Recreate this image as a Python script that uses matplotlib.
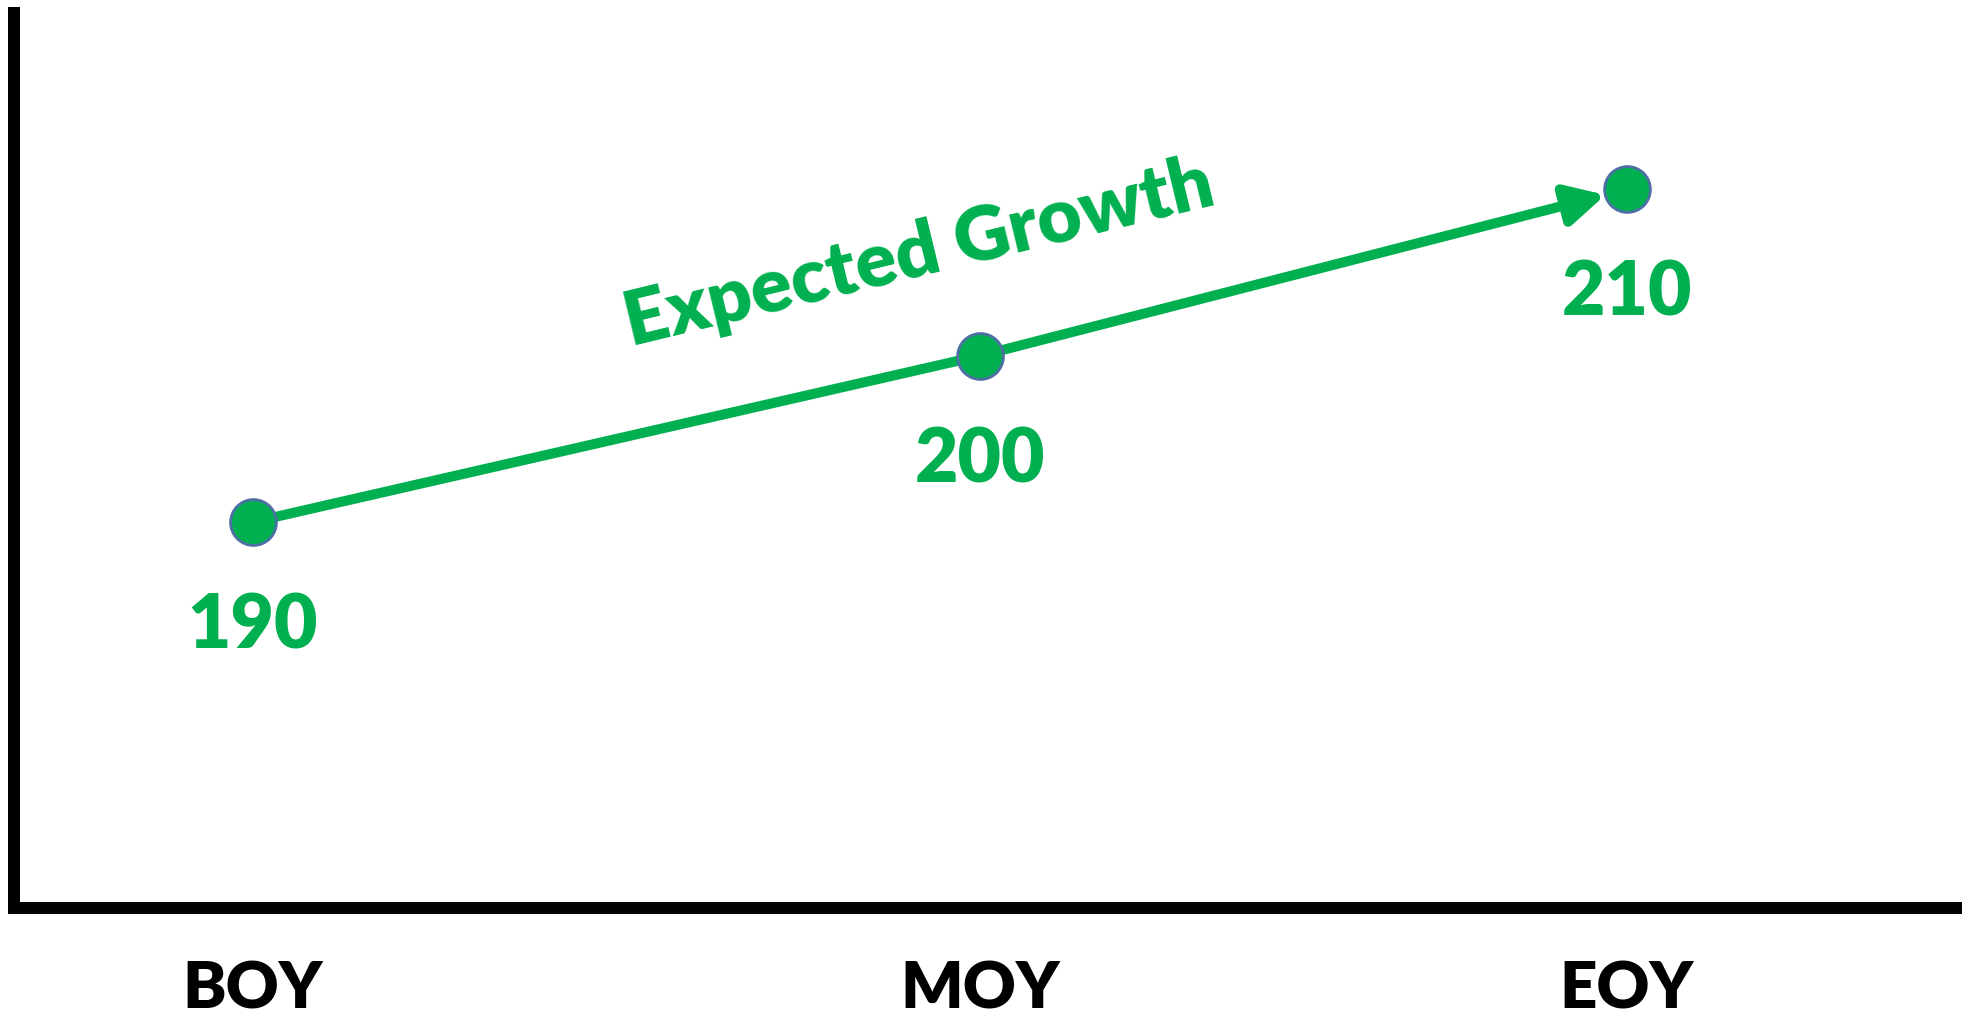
import numpy as np
import matplotlib
matplotlib.use("Agg")
import matplotlib.pyplot as plt

plt.rcParams['font.family'] = ['Lato', 'DejaVu Sans']

'''chart data'''
categories = ['BOY', 'MOY', 'EOY']
weeks = [2, 20, 36]          # rough school week of each benchmark
scores = [190, 200, 210]
growth_label = 'Expected Growth'

green = '#00B050'
edge = '#4E6FA3'
weight = 800

W, H = 1962, 1023
fig = plt.figure(figsize=(W / 100, H / 100), dpi=100)
# axes box in pixels: spines at x=14, y=908 (from top)
left_px, bottom_px, top_px = 14, 908, 13
ax = fig.add_axes([left_px / W, (H - bottom_px) / H,
                   (W - left_px) / W, (bottom_px - top_px) / H])
ax.set_xlim(-3.91, 44.29)
ax.set_ylim(166.8, 220.6)

'''line + arrow'''
ax.plot(weeks[:2], scores[:2], color=green, lw=7.2, solid_capstyle='butt', zorder=2)
ax.annotate('', xy=(weeks[2], scores[2]), xytext=(weeks[1], scores[1]),
            arrowprops=dict(arrowstyle='-|>,head_length=1.05,head_width=0.55',
                            color=green, lw=7.2, mutation_scale=22,
                            shrinkA=0, shrinkB=16),
            zorder=2)
ax.plot(weeks, scores, 'o', ms=33, mfc=green, mec=edge, mew=2, zorder=3)

for w, s in zip(weeks, scores):
    ax.annotate(str(s), (w, s), xytext=(0, -91), textcoords='offset points',
                ha='center', va='baseline', fontsize=54, fontweight=weight,
                color=green)

'''rotated label along the line'''
p0 = ax.transData.transform((weeks[0], scores[0]))
p1 = ax.transData.transform((weeks[2], scores[2]))
angle = np.degrees(np.arctan2(p1[1] - p0[1], p1[0] - p0[0]))
ax.annotate(growth_label, (weeks[1], scores[1]), xytext=(-40, 58),
            textcoords='offset points', ha='center', va='baseline',
            rotation=angle, rotation_mode='anchor', fontsize=55,
            fontweight=weight, color=green)

ax.set_xticks(weeks, labels=categories)
ax.set_yticks([])
ax.tick_params(axis='x', length=0, pad=38, labelsize=47)
for lab in ax.get_xticklabels():
    lab.set_fontweight(weight)
ax.spines['right'].set_visible(False)
ax.spines['top'].set_visible(False)
for sp in ['left', 'bottom']:
    ax.spines[sp].set_linewidth(8.64)
    ax.spines[sp].set_color('black')
    ax.spines[sp].set_capstyle('projecting')
ax.set_facecolor('white')
fig.patch.set_facecolor('white')

fig.savefig('out.png', dpi=100)
